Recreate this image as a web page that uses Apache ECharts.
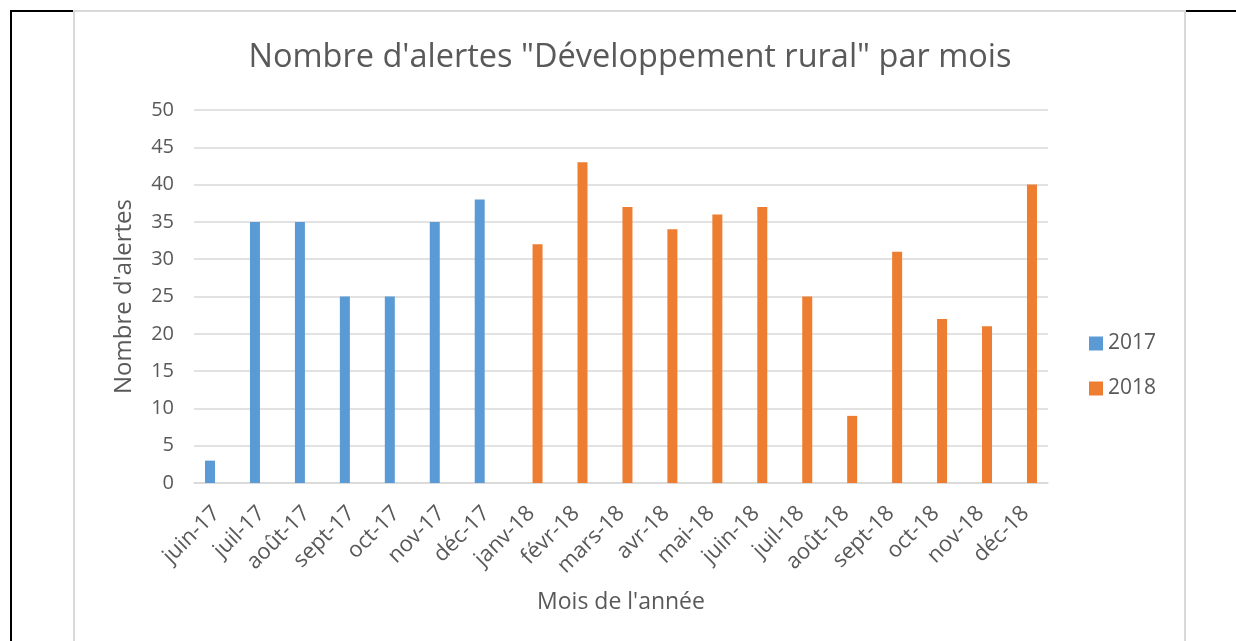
<!DOCTYPE html>
<html>
<head>
<meta charset="utf-8">
<script src="https://cdn.jsdelivr.net/npm/echarts@6/dist/echarts.min.js"></script>
<style>
  html, body { margin: 0; padding: 0; background: #fff; }
  #page { position: relative; width: 1236px; height: 641px; overflow: hidden; }
  #frame { position: absolute; left: 10px; top: 10px; width: 1300px; height: 700px;
           border-left: 2px solid #000; border-top: 2px solid #000; }
  #box { position: absolute; left: 73px; top: 10px; width: 1109px; height: 700px;
         background: #fff; border: 2px solid #d9d9d9; box-shadow: 0 -1px 0 #fff; }
  #chart { position: absolute; left: 0; top: 0; width: 1236px; height: 641px; }
</style>
</head>
<body>
<div id="page">
  <div id="frame"></div>
  <div id="box"></div>
  <div id="chart"></div>
</div>
<script>
const months = ['juin-17', 'juil-17', 'août-17', 'sept-17', 'oct-17', 'nov-17', 'déc-17',
  'janv-18', 'févr-18', 'mars-18', 'avr-18', 'mai-18', 'juin-18', 'juil-18', 'août-18',
  'sept-18', 'oct-18', 'nov-18', 'déc-18'];
const alerts2017 = [3, 35, 35, 25, 25, 35, 38, null, null, null, null, null, null, null, null, null, null, null, null];
const alerts2018 = [null, null, null, null, null, null, null, 32, 43, 37, 34, 36, 37, 25, 9, 31, 22, 21, 40];
const yTicks = { min: 0, max: 50, interval: 5 };

const FONT = '"Open Sans", sans-serif';
const TXT = '#595959';

const chart = echarts.init(document.getElementById('chart'), null, { renderer: 'canvas' });
chart.setOption({
  backgroundColor: 'transparent',
  animation: false,
  textStyle: { fontFamily: FONT, color: TXT },
  title: {
    text: 'Nombre d\'alertes "Développement rural" par mois',
    left: 625, top: 36, textAlign: 'center',
    textStyle: { fontFamily: FONT, fontSize: 32.5, fontWeight: 'normal', color: TXT }
  },
  legend: {
    orient: 'vertical', left: 1084, top: 328,
    itemWidth: 14, itemHeight: 14, itemGap: 24,
    icon: 'rect',
    textStyle: { fontFamily: FONT, fontSize: 21, color: TXT },
    data: ['2017', '2018']
  },
  grid: { left: 194, right: 1236 - 1048, top: 110, bottom: 641 - 483, containLabel: false },
  xAxis: {
    type: 'category',
    data: months,
    name: "Mois de l'année",
    nameLocation: 'middle',
    nameGap: 108,
    nameTextStyle: { fontFamily: FONT, fontSize: 23, color: TXT },
    axisLine: { lineStyle: { color: '#d9d9d9', width: 1.5 } },
    axisTick: { show: false },
    axisLabel: { rotate: 45, fontFamily: FONT, fontSize: 22, color: TXT, margin: 27, interval: 0 }
  },
  yAxis: {
    type: 'value',
    min: yTicks.min, max: yTicks.max, interval: yTicks.interval,
    name: "Nombre d'alertes",
    nameLocation: 'middle',
    nameGap: 58,
    nameTextStyle: { fontFamily: FONT, fontSize: 24, color: TXT },
    axisLine: { show: false },
    axisTick: { show: false },
    axisLabel: { fontFamily: FONT, fontSize: 20, color: TXT, margin: 20 },
    splitLine: { lineStyle: { color: '#d9d9d9', width: 1.5 } }
  },
  series: [
    {
      name: '2017', type: 'bar', data: alerts2017,
      barWidth: 10, barGap: '29%',
      itemStyle: { color: '#5B9BD5' }
    },
    {
      name: '2018', type: 'bar', data: alerts2018,
      barWidth: 10, barGap: '29%',
      itemStyle: { color: '#ED7D31' }
    }
  ]
});
</script>
</body>
</html>
